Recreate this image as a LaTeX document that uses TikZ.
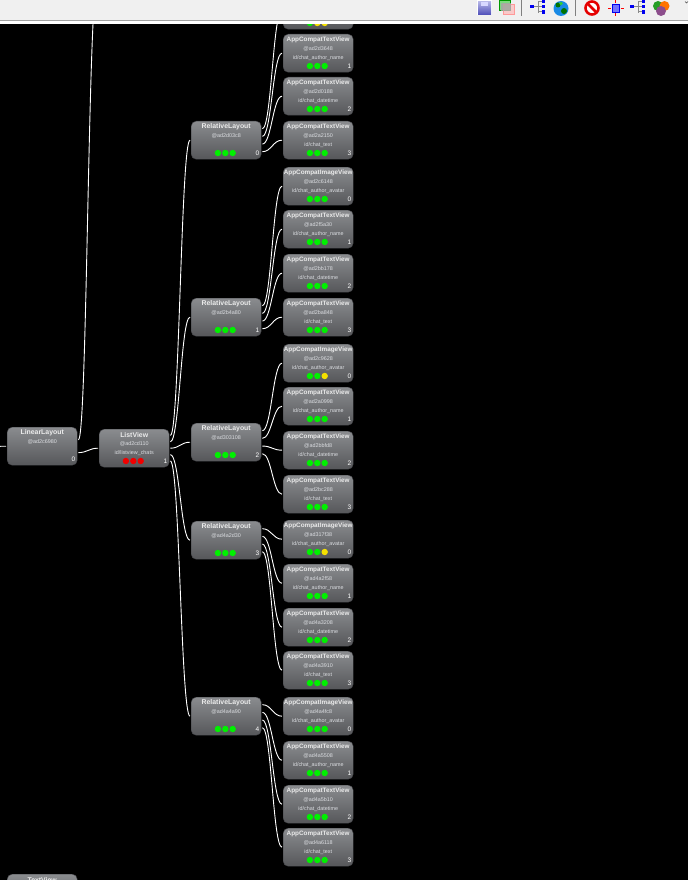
\documentclass[tikz,border=0pt]{standalone}
\usepackage{fontspec}
\setmainfont{Liberation Sans}
\usetikzlibrary{calc}

\definecolor{viewtop}{HTML}{8A8C8F}
\definecolor{viewbot}{HTML}{56575A}
\definecolor{viewedge}{HTML}{45464A}
\definecolor{smalltext}{HTML}{DCDEE2}
\definecolor{dotgreen}{HTML}{00F000}
\definecolor{dotyellow}{HTML}{F5E000}
\definecolor{dotred}{HTML}{F00000}
\definecolor{barbg}{HTML}{F0F0F0}
\definecolor{barline}{HTML}{A0A0A0}
\definecolor{iconblue}{HTML}{0000F0}
\definecolor{icongrey}{HTML}{8A8A8A}

\tikzset{
  view/.style={draw=viewedge,rounded corners=5pt,top color=viewtop,bottom color=viewbot,
    minimum width=70pt,minimum height=38pt,inner sep=0pt,anchor=north west},
  viewtitle/.style={text=white!92!black,font=\fontsize{6.9}{7}\selectfont\bfseries,inner sep=0pt},
  viewsmall/.style={text=smalltext,font=\fontsize{5.4}{6}\selectfont,inner sep=0pt},
  viewindex/.style={text=white,font=\fontsize{6.5}{7}\selectfont,inner sep=0pt,anchor=east},
  wire/.style={draw=white,line width=.9pt,shorten <=1pt,shorten >=1pt},
}

% name, x, y, title, hash, id, index
\newcommand{\viewnode}[7]{
\node[view] (#1) at (#2,#3) {};
\node[viewtitle] (#1-title) at ($(#1.north)+(0,6)$) {#4};
\node[viewsmall] (#1-hash) at ($(#1.north)+(0,15)$) {#5};
\node[viewsmall] (#1-id) at ($(#1.north)+(0,24.5)$) {#6};
\node[viewindex] (#1-index) at ($(#1.north east)+(-2,32)$) {#7};
}
% name, three colours
\newcommand{\viewdots}[2]{
\foreach \dc [count=\di] in {#2}
\fill[\dc] ($(#1.north west)+({19.5+7.4*\di},32)$) circle (3.2pt);
}
% narrower titles of the leaf views
\newcommand{\apptitle}[1]{\fontsize{6.35}{7}\selectfont #1}

\begin{document}
\begin{tikzpicture}[x=1pt,y=-1pt]
\useasboundingbox (0,0) rectangle (688,880);
\clip (0,0) rectangle (688,880);
\fill[black] (0,0) rectangle (688,880);

\viewnode{lin}{7}{427}{LinearLayout}{@ad2c6980}{}{0}
\viewnode{list}{99}{429}{ListView}{@ad2cd110}{id/listview\_chats}{1}
\viewnode{txt}{7}{874}{TextView}{}{}{}

\viewnode{rel0}{191}{121}{RelativeLayout}{@ad2d03c8}{}{0}
\viewnode{rel1}{191}{298}{RelativeLayout}{@ad2b4a80}{}{1}
\viewnode{rel2}{191}{423}{RelativeLayout}{@ad303108}{}{2}
\viewnode{rel3}{191}{521}{RelativeLayout}{@ad4a2d30}{}{3}
\viewnode{rel4}{191}{697}{RelativeLayout}{@ad4a4a90}{}{4}

\viewnode{c00}{283}{-9}{}{}{}{}
\viewnode{c01}{283}{34}{\apptitle{AppCompatTextView}}{@ad2d3648}{id/chat\_author\_name}{1}
\viewnode{c02}{283}{77}{\apptitle{AppCompatTextView}}{@ad2d0188}{id/chat\_datetime}{2}
\viewnode{c03}{283}{121}{\apptitle{AppCompatTextView}}{@ad2a2150}{id/chat\_text}{3}

\viewnode{c10}{283}{167}{\apptitle{AppCompatImageView}}{@ad2c6148}{id/chat\_author\_avatar}{0}
\viewnode{c11}{283}{210}{\apptitle{AppCompatTextView}}{@ad2f5a30}{id/chat\_author\_name}{1}
\viewnode{c12}{283}{254}{\apptitle{AppCompatTextView}}{@ad2bb178}{id/chat\_datetime}{2}
\viewnode{c13}{283}{298}{\apptitle{AppCompatTextView}}{@ad2ba848}{id/chat\_text}{3}

\viewnode{c20}{283}{344}{\apptitle{AppCompatImageView}}{@ad2c9628}{id/chat\_author\_avatar}{0}
\viewnode{c21}{283}{387}{\apptitle{AppCompatTextView}}{@ad2a0998}{id/chat\_author\_name}{1}
\viewnode{c22}{283}{431}{\apptitle{AppCompatTextView}}{@ad2bbfd8}{id/chat\_datetime}{2}
\viewnode{c23}{283}{475}{\apptitle{AppCompatTextView}}{@ad2bc288}{id/chat\_text}{3}

\viewnode{c30}{283}{520}{\apptitle{AppCompatImageView}}{@ad317f38}{id/chat\_author\_avatar}{0}
\viewnode{c31}{283}{564}{\apptitle{AppCompatTextView}}{@ad4a2f58}{id/chat\_author\_name}{1}
\viewnode{c32}{283}{608}{\apptitle{AppCompatTextView}}{@ad4a3208}{id/chat\_datetime}{2}
\viewnode{c33}{283}{651}{\apptitle{AppCompatTextView}}{@ad4a3910}{id/chat\_text}{3}

\viewnode{c40}{283}{697}{\apptitle{AppCompatImageView}}{@ad4a4fc8}{id/chat\_author\_avatar}{0}
\viewnode{c41}{283}{741}{\apptitle{AppCompatTextView}}{@ad4a5508}{id/chat\_author\_name}{1}
\viewnode{c42}{283}{785}{\apptitle{AppCompatTextView}}{@ad4a5b10}{id/chat\_datetime}{2}
\viewnode{c43}{283}{828}{\apptitle{AppCompatTextView}}{@ad4a6118}{id/chat\_text}{3}

\foreach \n in {rel0,rel1,rel2,rel3,rel4,c01,c02,c03,c10,c11,c12,c13,c21,c22,c23,c31,c32,c33,c40,c41,c42,c43}{
\viewdots{\n}{dotgreen,dotgreen,dotgreen}
}
\foreach \n in {c20,c30}{
\viewdots{\n}{dotgreen,dotgreen,dotyellow}
}
\viewdots{c00}{dotgreen,dotyellow,dotyellow}
\viewdots{list}{dotred,dotred,dotred}

% off-screen ends
\coordinate (inleft) at (-20,447);
\coordinate (upper) at (98,-24);

\draw[wire,shorten <=0pt] (inleft) .. controls +(10,0) and +(-10,0) .. (lin.west);
\draw[wire,shorten >=0pt] ($(lin.north east)!.333!(lin.south east)$) .. controls +(10,0) and +(-10,0) .. (upper);
\draw[wire] ($(lin.north east)!.667!(lin.south east)$) .. controls +(10,0) and +(-10,0) .. (list.west);

\foreach \g/\f in {0/.167,1/.333,2/.5,3/.667,4/.833}
\draw[wire] ($(list.north east)!\f!(list.south east)$) .. controls +(10,0) and +(-10,0) .. (rel\g.west);

\foreach \g in {0,...,4}
\foreach \k/\f in {0/.2,1/.4,2/.6,3/.8}
\draw[wire] ($(rel\g.north east)!\f!(rel\g.south east)$) .. controls +(10,0) and +(-10,0) .. (c\g\k.west);

% toolbar
\fill[barbg] (0,0) rectangle (688,20);
\fill[barline] (0,20) rectangle (688,21.5);
\fill[white] (0,21.5) rectangle (688,24);

% save icon
\fill[white] (476.5,0.5) rectangle (492,15.5);
\shade[top color=blue!25!white!80!gray,bottom color=blue!60!black!70!white] (478,2) rectangle (491,15);
\fill[white!85!blue] (481,2) rectangle (488,6);
% layers icon
\draw[green!60!black,fill=green!60!gray,fill opacity=.6] (499.5,.5) rectangle (510.5,10.5);
\draw[red!40!white,fill=red!30!white,fill opacity=.6] (503.5,4.5) rectangle (514.5,14.5);
\fill[gray!70!white,opacity=.8] (501,3) rectangle (511,11);
% separators
\foreach \x in {521.5,575.5}
\draw[gray,line width=.8pt] (\x,0) -- (\x,16);
% tree icons
\foreach \x in {530,630}{
\draw[icongrey,line width=1pt] (\x+1.5,6.5) -- (\x+8,6.5) (\x+8,2) -- (\x+8,13) (\x+8,2) -- (\x+13,2) (\x+8,7) -- (\x+13,7) (\x+8,12) -- (\x+13,12);
\fill[iconblue] (\x,5) rectangle (\x+3.5,8.5);
\fill[iconblue] (\x+11.5,0) rectangle (\x+15,3);
\fill[iconblue] (\x+11.5,5) rectangle (\x+15,8.5);
\fill[iconblue] (\x+11.5,10.5) rectangle (\x+15,14);
}
% globe
\fill[blue!45!cyan!80!gray] (561,8.5) circle (7.5pt);
\fill[green!45!black] (558,5) circle (2.5pt);
\fill[green!45!black] (564,11) circle (3pt);
\fill[green!60!gray] (561,3.5) circle (1.8pt);
% stop sign
\draw[red!90!black,line width=2.6pt,fill=white] (592,8) circle (6.5pt);
\draw[red!90!black,line width=2.6pt] (587.5,3.5) -- (596.5,12.5);
% centre icon
\draw[iconblue,fill=blue!55!white] (612,4) rectangle (619.5,12);
\draw[red,line width=.8pt] (615.7,0) -- (615.7,3) (615.7,13) -- (615.7,16) (608,8) -- (611,8) (620.5,8) -- (623.5,8);
% colour circles
\fill[green!55!black!85!white] (658,6) circle (5pt);
\fill[orange!90!red] (664.5,6) circle (5pt);
\fill[violet!55!gray!90!white] (661,11) circle (5pt);
% menu arrow
\draw[gray!60!black] (685,1.5) -- (686.5,3) -- (688,1.5);
\end{tikzpicture}
\end{document}
